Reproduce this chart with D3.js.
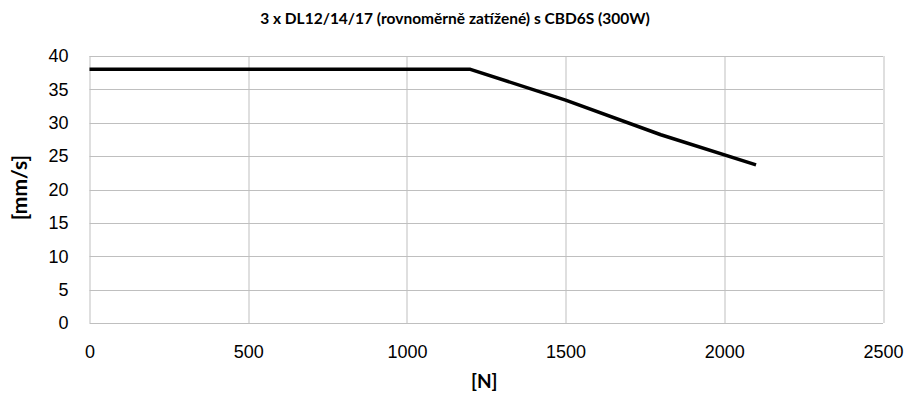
<!DOCTYPE html>
<html>
<head>
<meta charset="utf-8">
<script src="https://cdn.jsdelivr.net/npm/d3@7"></script>
<style>
  body { margin: 0; background: #fff; }
  svg { font-family: Lato, "Open Sans", sans-serif; }
</style>
</head>
<body>
<div id="chart"></div>
<script>
const title = "3 x DL12/14/17 (rovnoměrně zatížené) s CBD6S (300W)";
const forceN = [0, 1200, 1500, 1800, 2100];
const speed = [38, 38, 33.4, 28.2, 23.7];
const xTicks = [0, 500, 1000, 1500, 2000, 2500];
const yTicks = [0, 5, 10, 15, 20, 25, 30, 35, 40];

const W = 910, H = 401;
const margin = {top: 56, right: 27, bottom: 78, left: 89.5};
const width = W - margin.left - margin.right;
const height = H - margin.top - margin.bottom;

const svg = d3.select("#chart").append("svg")
    .attr("width", W).attr("height", H);

const g = svg.append("g")
    .attr("transform", `translate(${margin.left},${margin.top})`);

const x = d3.scaleLinear().domain([0, 2500]).range([0, width]);
const y = d3.scaleLinear().domain([0, 40]).range([height, 0]);

// grid
g.selectAll(".hgrid").data(yTicks).join("line")
    .attr("x1", 0).attr("x2", width)
    .attr("y1", d => Math.round(y(d)) + 0.5).attr("y2", d => Math.round(y(d)) + 0.5)
    .attr("stroke", "#bfbfbf").attr("stroke-width", 1);
g.selectAll(".vgrid").data(xTicks).join("line")
    .attr("x1", d => Math.round(x(d)) + 0.5).attr("x2", d => Math.round(x(d)) + 0.5)
    .attr("y1", 0).attr("y2", height)
    .attr("stroke", "#bfbfbf").attr("stroke-width", 1);

// axes labels
const xAxis = g.append("g")
    .attr("transform", `translate(0,${height})`)
    .call(d3.axisBottom(x).tickValues(xTicks).tickSize(0).tickPadding(22).tickFormat(d3.format("d")));
xAxis.select(".domain").remove();
xAxis.selectAll("text").style("font-size", "18px").attr("fill", "#000");

const yAxis = g.append("g")
    .call(d3.axisLeft(y).tickValues(yTicks).tickSize(0).tickPadding(21).tickFormat(d3.format("d")));
yAxis.select(".domain").remove();
yAxis.selectAll("text").style("font-size", "18px").attr("fill", "#000");

// line
const pts = forceN.map((f, i) => [f, speed[i]]);
g.append("path")
    .datum(pts)
    .attr("fill", "none")
    .attr("stroke", "#000")
    .attr("stroke-width", 3.5)
    .attr("stroke-linejoin", "round")
    .attr("d", d3.line().x(d => x(d[0])).y(d => y(d[1])));

// title
svg.append("text")
    .attr("x", 455).attr("y", 24)
    .attr("text-anchor", "middle")
    .style("font-size", "15.5px").style("font-weight", "bold")
    .text(title);

// axis titles
svg.append("text")
    .attr("x", margin.left + width / 2 - 2).attr("y", 388)
    .attr("text-anchor", "middle")
    .style("font-size", "19px").style("font-weight", "bold")
    .text("[N]");

svg.append("text")
    .attr("transform", `translate(27,${margin.top + height / 2 - 2}) rotate(-90)`)
    .attr("text-anchor", "middle")
    .style("font-size", "21px").style("font-weight", "bold")
    .text("[mm/s]");
</script>
</body>
</html>
